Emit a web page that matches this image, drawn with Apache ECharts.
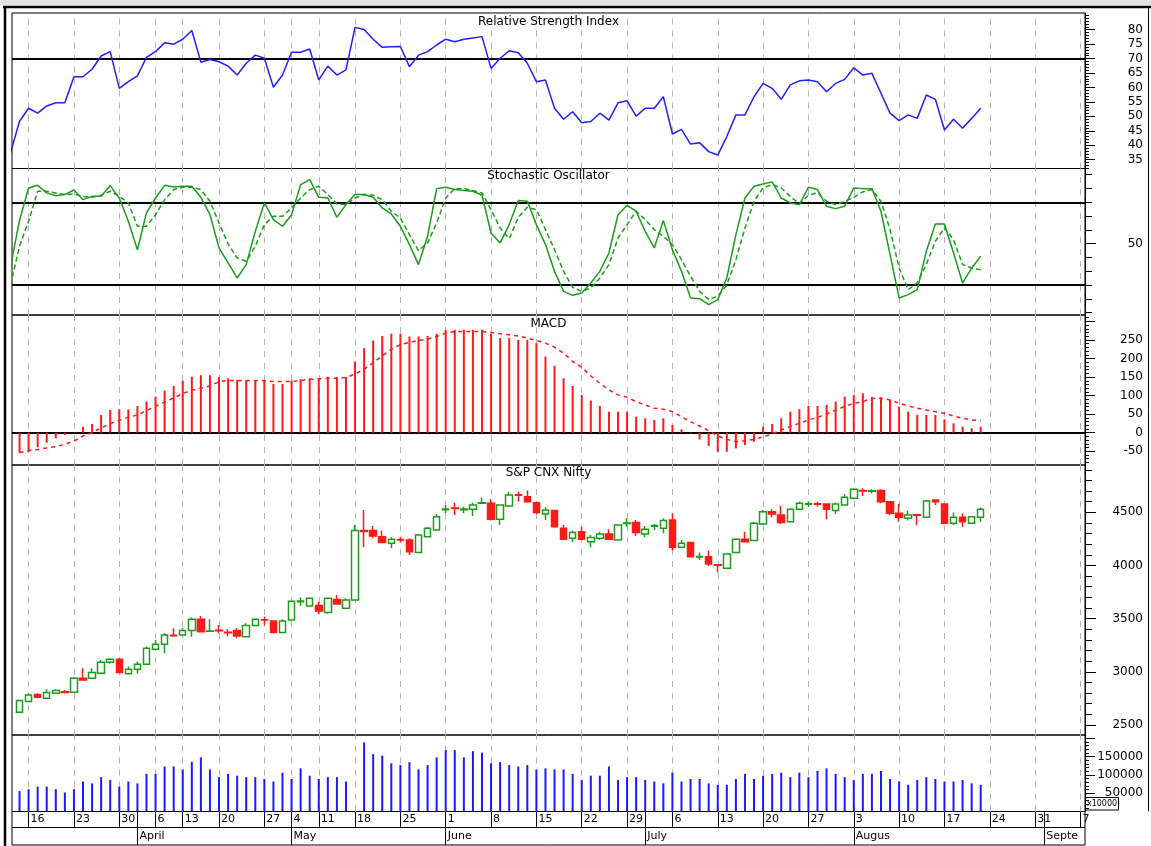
<!DOCTYPE html>
<html><head><meta charset="utf-8">
<script src="https://cdn.jsdelivr.net/npm/echarts/dist/echarts.min.js"></script>
<style>html,body{margin:0;padding:0;background:#fff}#c{width:1151px;height:846px}</style>
</head><body><div id="c"></div>
<script>
// trading days (2009), first entry is a lead-in day only partly visible at the left edge; the tail are future axis days
const days = ['03-12','03-13','03-16','03-17','03-18','03-19','03-20','03-23','03-24','03-25','03-26','03-27','03-30','03-31','04-01','04-02','04-06','04-08','04-09','04-13','04-15','04-16','04-17','04-20','04-21','04-22','04-23','04-24','04-27','04-28','04-29','05-04','05-05','05-06','05-11','05-12','05-14','05-15','05-18','05-19','05-20','05-21','05-22','05-25','05-26','05-27','05-28','05-29','06-01','06-02','06-03','06-04','06-05','06-08','06-09','06-10','06-11','06-12','06-15','06-16','06-17','06-18','06-19','06-22','06-23','06-24','06-25','06-26','06-29','06-30','07-01','07-02','07-03','07-06','07-07','07-08','07-09','07-10','07-13','07-14','07-15','07-16','07-17','07-20','07-21','07-22','07-23','07-24','07-27','07-28','07-29','07-30','07-31','08-03','08-04','08-05','08-06','08-07','08-10','08-11','08-12','08-13','08-14','08-17','08-18','08-19','08-20','08-21','08-24','08-25','08-26','08-27','08-28','08-31','09-01','09-02','09-03','09-04','09-07'];
const monthNames = ['January','February','March','April','May','June','July','August','September','October','November','December'];

const rsi = [37.3,48.3,52.8,51.1,53.6,54.7,54.7,63.7,63.7,66.3,70.9,72.4,59.7,62.0,64.0,70.4,72.4,75.5,75.0,76.7,79.7,68.7,69.7,68.9,67.4,64.3,68.4,71.2,70.1,60.1,64.3,72.2,72.2,73.3,62.6,67.4,64.3,66.1,80.8,80.1,76.7,73.9,74.1,74.2,67.2,71.2,72.4,74.7,76.7,75.8,76.7,77.1,77.6,66.6,70.1,72.7,72.0,68.4,62.0,62.6,52.8,49.0,51.6,47.8,48.2,51.1,48.7,54.7,55.4,50.1,52.8,52.8,56.8,43.9,45.5,40.4,40.9,37.8,36.6,43.0,50.5,50.5,56.8,61.4,59.7,55.9,60.9,62.3,62.6,62.0,58.5,61.4,62.8,66.8,64.3,64.9,58.0,51.1,48.5,50.5,49.3,57.4,55.9,45.3,49.0,45.9,49.3,52.8];

const stochK = [33,67,90.4,92.3,86.8,84.8,85.6,88.9,81.9,84.3,84.3,92.1,83.1,66.2,45.6,72.3,83.1,92.3,91.1,91.6,91.6,83.6,71.0,46.9,36.0,25.1,34.8,58.9,79.5,67.4,62.6,71.0,92.8,96.4,83.6,83.1,69.1,78.3,85.6,85.6,83.6,75.9,71.5,62.6,49.3,34.8,55.3,89.9,90.9,89.2,88.5,88.0,85.1,57.7,50.5,63.8,81.2,80.7,63.8,49.3,29.9,15.4,12.5,14.2,21.5,29.9,43.2,71.0,77.8,73.5,58.9,46.9,66.7,45.6,29.9,10.6,10.1,5.7,9.4,25.1,56.5,83.1,91.6,93.3,94.8,83.1,79.5,78.3,90.9,89.2,77.1,75.4,77.1,90.4,89.9,89.9,73.5,42.0,10.6,13.0,16.6,44.4,64.3,64.3,43.2,21.5,32.3,40.8];

const stochD = [20,48.1,66.2,88.0,88.0,86.8,85.6,86.0,84.3,83.6,85.1,88.0,84.3,79.5,62.6,62.6,71.0,81.9,89.2,90.9,90.9,89.2,80.7,65.0,49.8,39.6,37.2,48.1,63.8,69.8,69.8,75.9,83.1,89.2,91.6,85.6,78.8,78.3,83.1,85.6,85.1,81.9,73.5,68.6,56.5,44.9,50.5,65.0,83.1,89.9,89.9,88.5,86.8,74.7,61.4,53.6,69.1,76.4,74.7,60.2,45.6,29.9,18.3,15.4,17.8,25.1,34.8,54.1,63.8,73.5,67.4,60.2,55.3,49.3,38.4,26.3,15.4,9.4,11.8,20.2,38.4,61.4,80.7,90.4,92.8,90.4,84.3,78.8,85.1,86.8,80.7,78.3,80.7,83.6,87.5,89.2,80.7,60.2,32.3,16.6,21.5,34.8,51.7,61.4,52.9,34.8,32.3,31];

const macd = [null,-54,-51.3,-39.5,-27,-15,-6.2,1,16,23.5,48,61,63,63,72,84,97,113.6,126,140,151,155,155,150,147,142,142,142,142,131.6,131.6,140.6,144,147,147,151,150,150,192,228,248.7,261,266.8,266.8,259.5,259.5,261,266.8,277.6,277.6,277.6,277.6,277.6,266.8,255,255,250.5,250.5,241.5,205.5,180,147,126,101.9,86.6,72,56.8,56.8,56.8,43.3,38.8,34.3,38.8,20.8,9.1,-2,-18,-36,-51.4,-51.4,-42.3,-33.2,-24.4,16.3,23.5,38.8,56.8,63.2,72,72,74.9,83.9,97.4,101.9,106.4,95.6,95.6,88.4,70.4,56.8,47.8,47.8,47.8,36,25.3,16.3,11.8,16.3];

const signal = [null,-54,-48.5,-45,-41,-37.7,-31.4,-22.4,-8.9,0,12.7,24.4,33.4,41.5,47.8,59.5,71.3,83,93.8,105.5,114.5,120,126,138,140.6,140.6,140.6,140.6,140.6,138,138,138,140.6,144,145,147,147,148.7,158.6,171,189,207,225,237,244,248.7,252,259.5,268.6,273,273,273,273,270,266.8,264,261,255,248.7,241.5,230.7,214.5,192,176.5,153,133.4,115.4,102,95.6,83.9,74.9,65.9,63.2,56.8,43.3,29.8,18.1,5.5,-8.9,-18,-24.2,-21.5,-18,-10.7,-3.5,7.3,16.3,25.3,34.3,41.5,50.5,61.4,70.4,79.4,83.9,92.9,92.9,88.4,79.4,72.2,65.9,61.4,56.8,52.3,45.1,38.8,34.3,32.5];

const open = [null,2620,2720,2786,2752,2799,2812,2808,2940,2940,2987,3090,3118,2981,3024,3071,3213,3259,3345,3347,3388,3494,3382,3390,3372,3388,3331,3435,3490,3479,3369,3488,3660,3620,3623,3557,3680,3598,3676,4330,4328,4271,4209,4245,4240,4121,4271,4334,4525,4540,4525,4528,4585,4585,4434,4560,4665,4647,4591,4485,4516,4350,4256,4318,4224,4256,4296,4240,4394,4403,4296,4370,4350,4428,4171,4215,4080,4083,4008,3974,4121,4246,4234,4390,4506,4475,4412,4528,4575,4580,4578,4516,4569,4632,4705,4698,4704,4600,4490,4443,4476,4453,4616,4578,4397,4453,4397,4453];
const close = [null,2730,2783,2761,2805,2824,2806,2940,2924,2993,3090,3118,2993,3024,3071,3222,3259,3347,3340,3388,3494,3378,3385,3386,3368,3338,3435,3494,3487,3369,3479,3663,3665,3692,3573,3692,3638,3676,4328,4320,4278,4215,4246,4240,4130,4287,4350,4459,4530,4535,4530,4569,4591,4434,4569,4663,4660,4600,4497,4522,4365,4246,4309,4246,4262,4296,4246,4381,4400,4309,4340,4375,4422,4171,4209,4083,4085,4014,4002,4108,4246,4224,4397,4506,4484,4403,4528,4585,4580,4576,4528,4578,4641,4716,4700,4702,4600,4490,4453,4475,4473,4606,4600,4397,4453,4412,4459,4528];
const low = [null,2615,2720,2751,2752,2793,2800,2805,2924,2933,2987,3075,2987,2981,2981,3071,3213,3175,3330,3347,3331,3369,3378,3362,3338,3316,3331,3428,3441,3369,3369,3488,3620,3620,3545,3545,3638,3598,3676,4171,4256,4209,4162,4215,4099,4121,4265,4334,4490,4475,4490,4466,4580,4422,4381,4560,4600,4591,4484,4428,4359,4240,4221,4246,4171,4240,4240,4240,4365,4278,4265,4334,4303,4140,4162,4077,4052,3996,3933,3974,4121,4224,4234,4381,4453,4390,4412,4528,4553,4553,4434,4484,4569,4622,4653,4678,4585,4475,4412,4422,4381,4453,4569,4397,4381,4365,4397,4412];
const high = [null,2735,2799,2799,2836,2836,2830,2950,3034,3034,3112,3128,3128,3050,3097,3237,3300,3362,3410,3410,3512,3525,3494,3440,3400,3410,3456,3503,3519,3479,3494,3669,3700,3692,3660,3700,3722,3692,4381,4522,4372,4328,4265,4271,4256,4287,4365,4484,4569,4591,4553,4591,4640,4622,4569,4694,4694,4704,4600,4547,4522,4381,4328,4365,4287,4318,4340,4381,4444,4428,4372,4390,4444,4490,4240,4215,4121,4140,4014,4115,4256,4318,4412,4522,4528,4560,4538,4600,4600,4600,4578,4591,4672,4726,4726,4716,4716,4600,4578,4516,4478,4616,4616,4578,4497,4490,4465,4544];
const volume = [null,56000,61000,68000,68000,61000,52000,61000,82000,77000,94000,86000,68000,82000,77000,103000,103000,123000,123000,115000,136000,148000,115000,94000,103000,98000,94000,94000,89000,82000,106000,89000,118000,98000,89000,94000,94000,82000,null,189000,157000,153000,132000,127000,135000,115000,127000,148000,168000,168000,148000,165000,161000,132000,135000,127000,123000,127000,115000,118000,115000,115000,103000,86000,98000,98000,123000,86000,94000,94000,86000,82000,77000,106000,82000,89000,89000,77000,73000,73000,89000,103000,89000,98000,103000,106000,94000,106000,94000,111000,118000,103000,94000,86000,103000,103000,111000,89000,82000,73000,86000,94000,89000,82000,82000,86000,77000,73000];

// tick label sets of the value axes
const rsiTicks = [35,40,45,50,55,60,65,70,75,80];
const stochTicks = [0,10,20,30,40,50,60,70,80,90,100];
const stochLabels = [50];
const macdTicks = [-50,0,50,100,150,200,250,300];
const macdLabels = [-50,0,50,100,150,200,250];
const priceTicks = [2500,3000,3500,4000,4500];
const volTicks = [50000,100000,150000,200000];
const volLabels = [50000,100000,150000];

const FONT = 'DejaVu Sans';
const XMIN = 0.17, XMAX = 118.5;
const GREEN = '#1c9c1c', RED = '#ff1a1a', BLUE = '#2020ff';

function pd(s){ const p = s.split('-').map(Number); return new Date(Date.UTC(2009, p[0]-1, p[1])); }
const weekStarts = [], monthStarts = [];
for (let i = 1; i < days.length; i++) {
  const a = pd(days[i-1]), b = pd(days[i]);
  if (b.getUTCDay() < a.getUTCDay() || (b - a) >= 7*864e5) weekStarts.push(i);
  if (b.getUTCMonth() !== a.getUTCMonth()) monthStarts.push(i);
}
function range(a, b, s){ const r=[]; for (let v=a; v<=b+1e-9; v+=s) r.push(Math.round(v*100)/100); return r; }
const pts = arr => arr.map((v,i) => v == null ? null : [i, v]).filter(Boolean);

const chart = echarts.init(document.getElementById('c'), null, {renderer:'canvas', width:1151, height:846});

const panels = [[13,155.5],[168.5,146.5],[315,150],[465,270],[735,76.5],[811.5,16],[827.5,17.5]];
const grid = panels.map(p => ({left:12, top:p[0], width:1073, height:p[1], show:true, borderColor:'#000', borderWidth:1}));

const lab = {fontSize:12, fontFamily:FONT, color:'#000'};
const xAxis = [0,1,2,3,4].map(g => ({type:'value', gridIndex:g, min:XMIN, max:XMAX,
  axisLine:{show:false,onZero:false}, axisTick:{show:false}, axisLabel:{show:false}, splitLine:{show:false}}));
xAxis.push({type:'value', gridIndex:5, position:'top', min:XMIN, max:XMAX,
  axisLine:{show:false,onZero:false},
  axisTick:{show:true, inside:true, length:16, customValues: weekStarts.concat(monthStarts), lineStyle:{color:'#000',width:1}},
  axisLabel:{show:true, inside:true, customValues: weekStarts, margin:2, align:'left', verticalAlign:'top', padding:[0,0,0,2],
    fontSize:11, fontFamily:FONT, color:'#000', formatter: v => String(pd(days[Math.round(v)]).getUTCDate())},
  splitLine:{show:false}});
xAxis.push({type:'value', gridIndex:6, position:'top', min:XMIN, max:XMAX,
  axisLine:{show:false,onZero:false},
  axisTick:{show:true, inside:true, length:17.5, customValues: monthStarts, lineStyle:{color:'#000',width:1}},
  axisLabel:{show:true, inside:true, customValues: monthStarts, margin:3, align:'left', verticalAlign:'top', padding:[0,0,0,2],
    fontSize:11, fontFamily:FONT, color:'#000', width:38, overflow:'truncate', ellipsis:'',
    formatter: v => monthNames[pd(days[Math.round(v)]).getUTCMonth()]},
  splitLine:{show:false}});

function yMain(g, min, max, ticks, labels, len, fmt){
  return {type:'value', gridIndex:g, position:'right', min, max,
    axisLine:{show:true, onZero:false, lineStyle:{color:'#000', width:1}},
    axisTick:{show:true, length:len, customValues:ticks, lineStyle:{color:'#000', width:1}},
    axisLabel:{show:labels.length>0, customValues:labels, align:'right', margin:58, ...lab, formatter: fmt || (v => String(v))},
    splitLine:{show:false}};
}
function yMinor(g, min, max, ticks, len){
  return {type:'value', gridIndex:g, position:'right', min, max,
    axisLine:{show:false, onZero:false}, axisLabel:{show:false}, splitLine:{show:false},
    axisTick:{show:true, length:len, customValues:ticks, lineStyle:{color:'#000', width:1}}};
}
const yAxis = [
  yMain(0, 31.95, 85.78, rsiTicks, rsiTicks, 10),                 //0
  yMinor(0, 31.95, 85.78, range(32,85,1), 4),                     //1
  yMinor(1, -1.77, 104.5, stochTicks, 7),                         //2
  yMain(1, -1.77, 104.5, stochLabels, stochLabels, 11),           //3
  yMain(2, -87.1, 317.4, macdTicks, macdLabels, 10),              //4
  yMinor(2, -87.1, 317.4, range(-80,310,10), 4),                  //5
  yMain(3, 2406, 4944.8, priceTicks, priceTicks, 11),             //6
  yMinor(3, 2406, 4944.8, range(2500,4900,100), 7),               //7
  yMain(4, 0, 209300, volTicks, volLabels, 10),                   //8
  yMinor(4, 0, 209300, range(10000,200000,10000), 4),             //9
  {type:'value', gridIndex:5, min:0, max:1, show:false},          //10
  {type:'value', gridIndex:6, min:0, max:1, show:false}           //11
];

function marks(hvals){
  return {silent:true, symbol:['none','none'], z:1, animation:false, label:{show:false}, emphasis:{disabled:true},
    data: weekStarts.map(v => ({xAxis:v, lineStyle:{color:'#b4b4b4', type:[6,6], width:1}}))
      .concat(hvals.map(v => ({yAxis:v, lineStyle:{color:'#000', type:'solid', width:2}})))};
}
const lineBase = {type:'line', symbol:'none', showSymbol:false, smooth:false, z:3, emphasis:{disabled:true}};

const candles = open.map((o,i) => o == null ? null : [i, o, close[i], low[i], high[i]]).filter(Boolean);

const series = [
  {...lineBase, name:'RSI', xAxisIndex:0, yAxisIndex:0, data:pts(rsi), lineStyle:{color:BLUE, width:1.5}, markLine:marks([70])},
  {...lineBase, name:'%K', xAxisIndex:1, yAxisIndex:2, data:pts(stochK), lineStyle:{color:GREEN, width:1.5}, markLine:marks([20,80])},
  {...lineBase, name:'%D', xAxisIndex:1, yAxisIndex:2, data:pts(stochD), lineStyle:{color:GREEN, width:1.5, type:[5,3]}},
  {type:'bar', name:'MACD', xAxisIndex:2, yAxisIndex:4, data:pts(macd), barWidth:2, itemStyle:{color:RED}, z:3, markLine:marks([0])},
  {...lineBase, name:'Signal', xAxisIndex:2, yAxisIndex:4, data:pts(signal), lineStyle:{color:RED, width:1.5, type:[4,4]}},
  {type:'candlestick', name:'S&P CNX Nifty', xAxisIndex:3, yAxisIndex:6, barWidth:7, encode:{x:0, y:[1,2,3,4]}, data:candles, z:3,
    itemStyle:{color:'#ffffff', color0:RED, borderColor:GREEN, borderColor0:RED, borderWidth:1.5}, markLine:marks([])},
  {type:'bar', name:'Volume', xAxisIndex:4, yAxisIndex:8, data:pts(volume), barWidth:2, itemStyle:{color:'#1a1aff'}, z:3, markLine:marks([])}
];

const titleStyle = (t, y) => ({type:'text', x:548.5, y:y, z:10, style:{text:t, fill:'#000', font:'12px "DejaVu Sans"', align:'center', verticalAlign:'middle'}});
const graphic = [
  {type:'rect', shape:{x:0,y:0,width:1151,height:5}, style:{fill:'#e2e2e2'}, z:0},
  {type:'line', shape:{x1:3,y1:7,x2:1151,y2:7}, style:{stroke:'#000', lineWidth:2.5}, z:10},
  {type:'line', shape:{x1:5,y1:6,x2:5,y2:846}, style:{stroke:'#000', lineWidth:2.5}, z:10},
  {type:'line', shape:{x1:1148.5,y1:7,x2:1148.5,y2:811.5}, style:{stroke:'#000', lineWidth:1}, z:10},
  titleStyle('Relative Strength Index', 22),
  titleStyle('Stochastic Oscillator', 176),
  titleStyle('MACD', 324),
  titleStyle('S&P CNX Nifty', 473),
  {type:'group', z:20, children:[
    {type:'rect', shape:{x:1085.5,y:797.5,width:33,height:12.5}, style:{fill:'#fff', stroke:'#000', lineWidth:1}},
    {type:'text', x:1102, y:804, style:{text:'x10000', fill:'#000', font:'8px "DejaVu Sans"', align:'center', verticalAlign:'middle'}}
  ]}
];

chart.setOption({animation:false, backgroundColor:'#fff', textStyle:{fontFamily:FONT}, grid, xAxis, yAxis, series, graphic});
</script>
</body></html>
